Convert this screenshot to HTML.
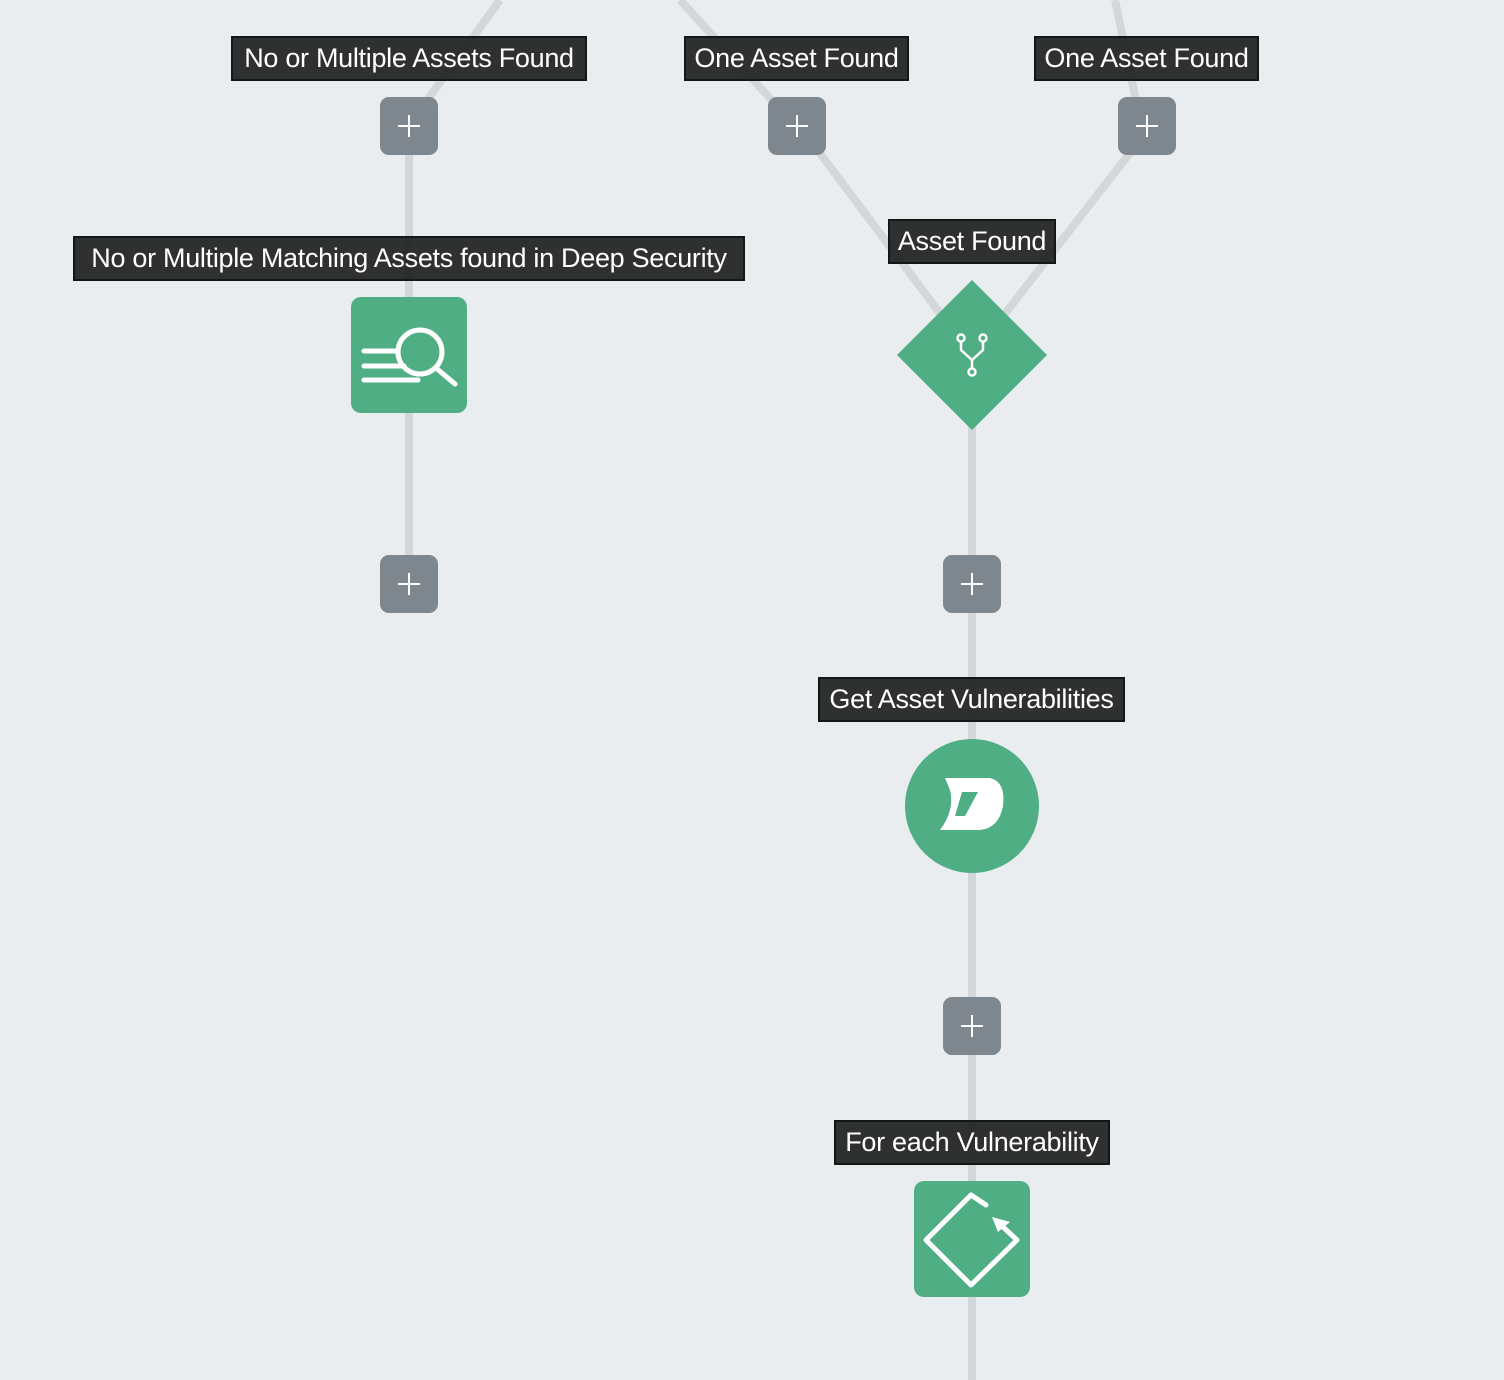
<!DOCTYPE html>
<html><head><style>
body{margin:0;width:1504px;height:1380px;background:#e9edf0;overflow:hidden;position:relative;font-family:"Liberation Sans",Arial,sans-serif}
.lbl{position:absolute;background:rgba(30,32,32,0.92);border:2px solid #151616;color:#fff;font-size:27px;letter-spacing:-0.3px;line-height:40px;text-align:center;white-space:nowrap;box-sizing:border-box;height:45px;overflow:hidden}
.plus{position:absolute;width:58px;height:58px;border-radius:9px;background:#7e868e;}
.plus:before{content:"";position:absolute;left:18px;top:28px;width:22px;height:2px;background:#fff}
.plus:after{content:"";position:absolute;left:28px;top:18px;width:2px;height:22px;background:#fff}
svg{position:absolute;left:0;top:0}
</style></head><body>
<svg width="1504" height="1380">
<g stroke="#d3d7da" stroke-width="8" fill="none">
<line x1="500" y1="0" x2="420" y2="110"/>
<line x1="680" y1="0" x2="790" y2="120"/>
<line x1="1115" y1="0" x2="1140" y2="120"/>
<line x1="810" y1="140" x2="945" y2="320"/>
<line x1="1140" y1="140" x2="1000" y2="320"/>
<line x1="409" y1="126" x2="409" y2="584"/>
<line x1="972" y1="355" x2="972" y2="1380"/>
</g>
<rect x="351" y="297" width="116" height="116" rx="10" fill="#4fae84"/>
<g stroke="#fff" stroke-width="5" fill="none" stroke-linecap="round">
<circle cx="420" cy="352" r="22"/>
<line x1="436" y1="368" x2="455" y2="384"/>
<line x1="364" y1="351" x2="398" y2="351"/>
<line x1="364" y1="366" x2="404" y2="366"/>
<line x1="364" y1="380" x2="418" y2="380"/>
</g>
<polygon points="972,280 1047,355 972,430 897,355" fill="#4fae84"/>
<g stroke="#fff" stroke-width="2.5" fill="none">
<circle cx="961" cy="338" r="3.5"/><circle cx="983" cy="338" r="3.5"/><circle cx="972" cy="372" r="3.5"/>
<path d="M961 342 L961 350 L972 360 L983 350 L983 342 M972 360 L972 368"/>
</g>
<circle cx="972" cy="806" r="67" fill="#4fae84"/>
<path d="M945 778 L990 778 Q1006 782 1003 806 Q999 828 980 830 L940 830 Q955 810 950 790 Z M962 792 L978 792 L965 816 L955 816 Z" fill="#fff" fill-rule="evenodd"/>
<rect x="914" y="1181" width="116" height="116" rx="10" fill="#4fae84"/>
<g stroke="#fff" stroke-width="5" fill="none" stroke-linecap="round" stroke-linejoin="round">
<path d="M986 1205 L971 1195 L926 1240 L971 1285 L1017 1240 L1002 1226"/>
</g>
<polygon points="992,1217 1010,1222 998,1232" fill="#fff"/>
</svg>
<div class="plus" style="left:380px;top:97px"></div>
<div class="plus" style="left:768px;top:97px"></div>
<div class="plus" style="left:1118px;top:97px"></div>
<div class="plus" style="left:380px;top:555px"></div>
<div class="plus" style="left:943px;top:555px"></div>
<div class="plus" style="left:943px;top:997px"></div>
<div class="lbl" style="left:231px;top:36px;width:356px">No or Multiple Assets Found</div>
<div class="lbl" style="left:684px;top:36px;width:225px">One Asset Found</div>
<div class="lbl" style="left:1034px;top:36px;width:225px">One Asset Found</div>
<div class="lbl" style="left:73px;top:236px;width:672px">No or Multiple Matching Assets found in Deep Security</div>
<div class="lbl" style="left:888px;top:219px;width:168px">Asset Found</div>
<div class="lbl" style="left:818px;top:677px;width:307px">Get Asset Vulnerabilities</div>
<div class="lbl" style="left:834px;top:1120px;width:276px">For each Vulnerability</div>
</body></html>
